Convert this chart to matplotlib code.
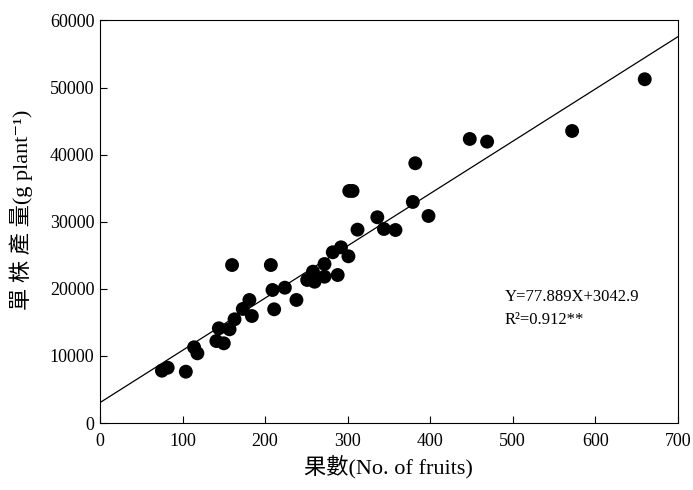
import numpy as np
import matplotlib
matplotlib.use("Agg")
import matplotlib.pyplot as plt

plt.rcParams['font.family'] = ['Liberation Serif', 'DejaVu Serif', 'Noto Sans CJK TC']

# fruits per plant vs yield per plant
fruits = [75, 82, 104, 114, 118, 141, 150, 144, 157, 163, 160, 173, 181, 184,
          207, 209, 211, 224, 238, 251, 258, 260, 272, 272, 282, 288, 292,
          301, 302, 306, 312, 336, 344, 358, 379, 382, 398, 448, 469, 572, 660]
yields = [7800, 8240, 7650, 11290, 10390, 12220, 11880, 14120, 13970, 15460,
          23550, 17000, 18340, 15950, 23550, 19830, 16950, 20170, 18340, 21320,
          22560, 21060, 23700, 21810, 25450, 22060, 26190, 24850, 34590, 34590,
          28820, 30670, 28920, 28770, 32950, 38720, 30860, 42340, 41940, 43530,
          51240]

slope, intercept = 77.889, 3042.9
r2 = 0.912

fig = plt.figure(figsize=(6.93, 4.90), dpi=100)
ax = fig.add_axes([0.1443, 0.1367, 0.8337, 0.8215])

ax.scatter(fruits, yields, s=100, c='black', edgecolors='none', zorder=3)

xs = np.array([0, 700])
ax.plot(xs, np.polyval([slope, intercept], xs), color='black', lw=0.9)

ax.set_xlim(0, 700)
ax.set_ylim(0, 60000)
ax.set_xticks(np.arange(0, 701, 100))
ax.set_yticks(np.arange(0, 60001, 10000))
ax.tick_params(direction='in', length=5, labelsize=13)
ax.tick_params(axis='y', pad=4)
ax.tick_params(axis='x', pad=7)

ax.set_xlabel('果數(No. of fruits)', fontsize=16, labelpad=4)
ax.set_ylabel('單 株 產 量(g plant⁻¹)', fontsize=16, labelpad=12)
ax.yaxis.label.set_y(0.53)

ax.text(490, 18800, 'Y=77.889X+3042.9', fontsize=12, va='center')
ax.text(490, 15350, 'R²=0.912**', fontsize=12, va='center')

fig.savefig('out.png', dpi=100)
